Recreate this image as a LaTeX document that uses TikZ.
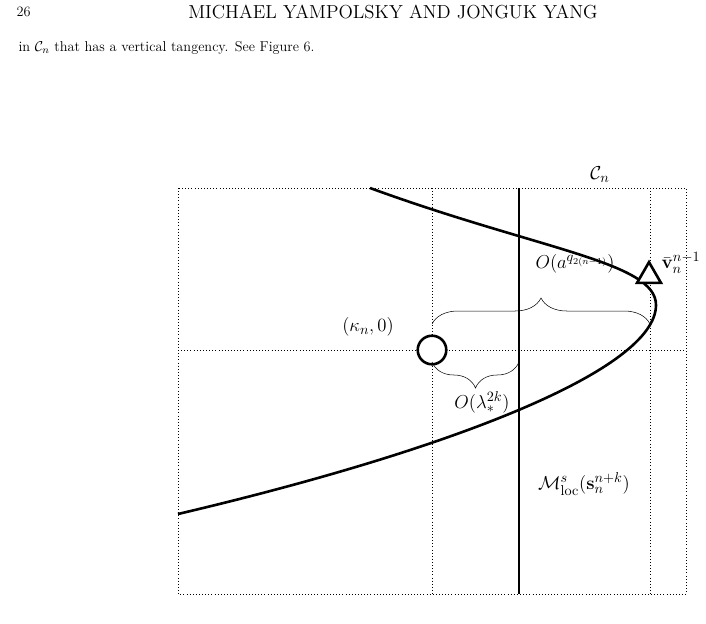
\documentclass[tikz,border=0pt]{standalone}
\usepackage{amsmath}
\usepackage{amssymb}
\usetikzlibrary{decorations.pathreplacing,shapes.geometric}
\begin{document}
\begin{tikzpicture}[x=0.77pt,y=-0.77pt,
    grid/.style={dotted,thin},
    curve/.style={line width=2pt},
    lab/.style={font=\fontsize{15}{17}\selectfont},
    brace/.style={decorate,decoration={brace,amplitude=20pt}}]
  \useasboundingbox (0,0) rectangle (706,623);
  %% page text
  \begin{scope}[font=\fontsize{11}{13}\selectfont]
    \node[anchor=west] (page) at (12,12) {26};
    \node (head) at (393,12) {\fontsize{14.5}{16}\selectfont MICHAEL YAMPOLSKY AND JONGUK YANG};
    \node[anchor=west] (text) at (14,48) {in $\mathcal{C}_n$ that has a vertical tangency. See Figure 6.};
  \end{scope}
  %% dotted frame
  \draw[grid] (178,188) rectangle (686,594);
  \draw[grid] (432,188) -- (432,594);
  \draw[grid] (650,188) -- (650,594);
  \draw[grid] (178,350) -- (686,350);
  %% stable manifold
  \coordinate (mtop) at (519,188);
  \coordinate (mbot) at (519,594);
  \draw[curve] (mtop) -- (mbot);
  %% curve C_n
  \draw[curve] (370,188) .. controls (540,250) and (656,262) .. (656,305)
    .. controls (656,370) and (450,450) .. (178,514);
  %% points
  \node[draw,circle,line width=2pt,minimum size=22pt,inner sep=0pt,fill=white] (kappa) at (432,350) {};
  \node[draw,isosceles triangle,isosceles triangle apex angle=60,shape border rotate=90,line width=2pt,minimum size=16pt,inner sep=0pt,fill=white] (vn) at (649,276) {};
  %% braces
  \coordinate (b1) at (432,324);
  \coordinate (b2) at (650,324);
  \draw[brace] (b1) -- (b2);
  \coordinate (c1) at (519,362);
  \coordinate (c2) at (432,362);
  \draw[brace] (c1) -- (c2);
  %% labels
  \node[lab] (lcn) at (600,175) {$\mathcal{C}_n$};
  \node[lab,anchor=west] (lvn) at (657,263) {$\bar{\mathbf{v}}_n^{n-1}$};
  \node[lab] (la) at (575,264) {$O(a^{q_{2(n-1)}})$};
  \node[lab] (lk) at (368,327) {$(\kappa_n,0)$};
  \node[lab] (ll) at (482,402) {$O(\lambda_*^{2k})$};
  \node[lab] (lm) at (584,484) {$\mathcal{M}^s_{\mathrm{loc}}(\mathbf{s}_n^{n+k})$};
\end{tikzpicture}
\end{document}
